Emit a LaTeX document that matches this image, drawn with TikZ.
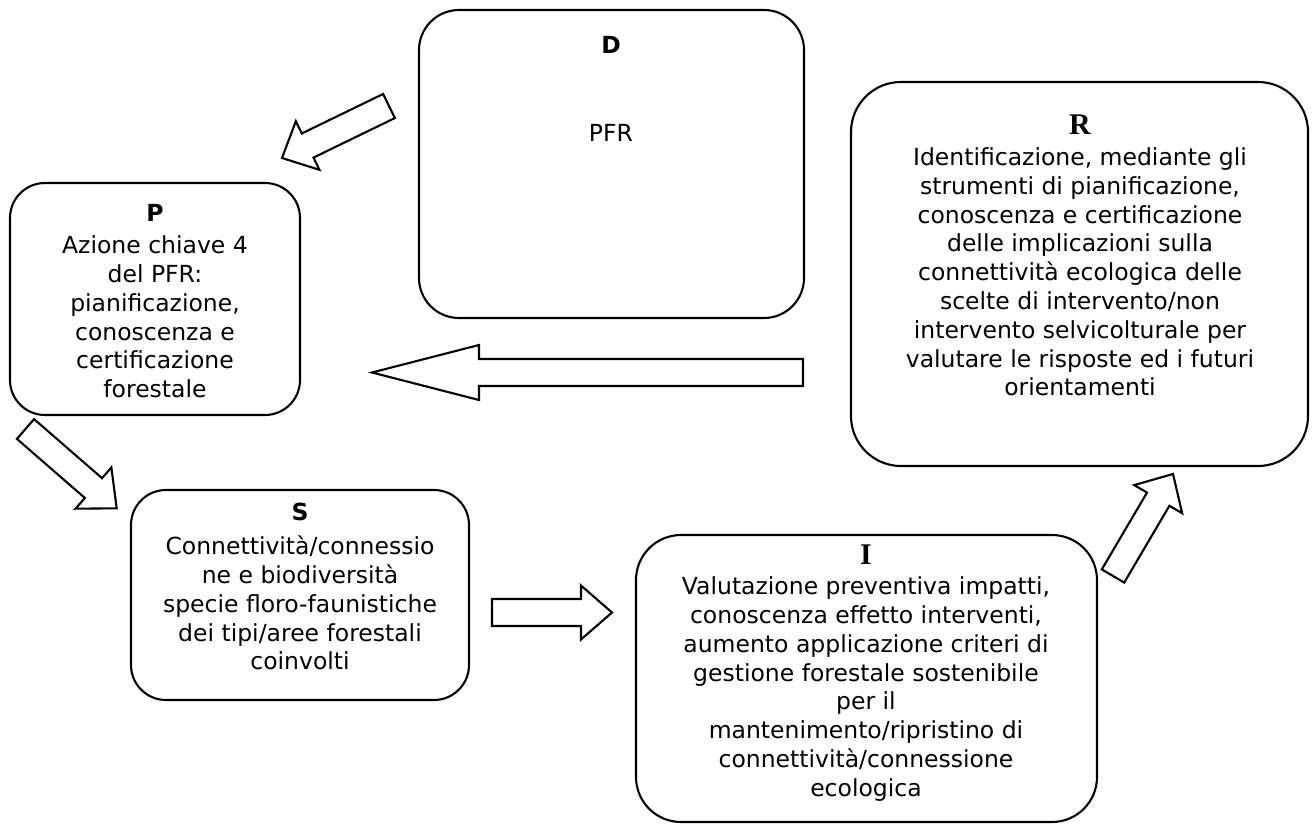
\documentclass[tikz,border=0pt]{standalone}
\usepackage{fontspec}
\setmainfont{DejaVu Sans}
\newfontfamily\hdrserif{Liberation Serif}
\usetikzlibrary{calc}

\tikzset{
  box/.style={draw, line width=2.1pt, rounded corners=#1, inner sep=0pt},
  body/.style={align=center, inner sep=0pt, font=\fontsize{23.5}{28.8}\selectfont},
  shdr/.style={inner sep=0pt, font=\fontsize{23.5}{28.8}\selectfont\bfseries},
  rhdr/.style={inner sep=0pt, font=\fontsize{30}{34}\selectfont\hdrserif\bfseries},
  blockarrow/.style={draw, line width=2.1pt, fill=white, line join=miter},
}

% Hollow block arrow: #1 tail, #2 tip, #3 shaft half-width,
% #4 head half-width, #5 head length
\newcommand\blockarr[5]{%
  \coordinate (ba-b) at ($(#2)!#5!(#1)$);
  \draw[blockarrow]
    ($(#1)!#3!90:(#2)$) -- ($(ba-b)!#3!90:(#2)$) -- ($(ba-b)!#4!90:(#2)$)
    -- (#2)
    -- ($(ba-b)!#4!-90:(#2)$) -- ($(ba-b)!#3!-90:(#2)$) -- ($(#1)!#3!-90:(#2)$)
    -- cycle;
}

\begin{document}
\begin{tikzpicture}[x=1pt, y=-1pt]
\useasboundingbox (0,0) rectangle (1314,824);

% boxes
\node[box=40pt, minimum width=385pt, minimum height=308pt] (D) at (611.5,164) {};
\node[box=35pt, minimum width=290pt, minimum height=232pt] (P) at (155,299) {};
\node[box=50pt, minimum width=457pt, minimum height=384pt] (R) at (1079.5,274) {};
\node[box=35pt, minimum width=338pt, minimum height=210pt] (S) at (300,595) {};
\node[box=45pt, minimum width=461pt, minimum height=287pt] (I) at (866.5,678.5) {};

% D
\node[shdr] (Dh) at (611,45) {D};
\node[body] (Db) at (611,133) {PFR};

% P
\node[shdr] (Ph) at (155,213) {P};
\node[body] (Pb) at (155,317) {Azione chiave 4\\del PFR:\\pianificazione,\\conoscenza e\\certificazione\\forestale};

% S
\node[shdr] (Sh) at (300,512) {S};
\node[body] (Sb) at (300,603) {Connettività/connessio\\ne e biodiversità\\specie floro-faunistiche\\dei tipi/aree forestali\\coinvolti};

% R
\node[rhdr] (Rh) at (1080,125) {R};
\node[body] (Rb) at (1080,272) {Identificazione, mediante gli\\strumenti di pianificazione,\\conoscenza e certificazione\\delle implicazioni sulla\\connettività ecologica delle\\scelte di intervento/non\\intervento selvicolturale per\\valutare le risposte ed i futuri\\orientamenti};

% I
\node[rhdr] (Ih) at (866,555) {I};
\node[body] (Ib) at (866,689) {Valutazione preventiva impatti,\\conoscenza effetto interventi,\\aumento applicazione criteri di\\gestione forestale sostenibile\\per il\\mantenimento/ripristino di\\connettività/connessione\\ecologica};

% arrow end points
\coordinate (dp-t) at (389,106);   \coordinate (dp-h) at (282,158);
\coordinate (ps-t) at (25.5,429);  \coordinate (ps-h) at (116.7,508.3);
\coordinate (rp-t) at (803,372.5); \coordinate (rp-h) at (372,372.5);
\coordinate (si-t) at (492,612.5); \coordinate (si-h) at (612,612.5);
\coordinate (ir-t) at (1113,576);  \coordinate (ir-h) at (1173,474);

\blockarr{dp-t}{dp-h}{13.4pt}{27pt}{28.5pt}
\blockarr{ps-t}{ps-h}{13.1pt}{27.3pt}{30.8pt}
\blockarr{rp-t}{rp-h}{13.5pt}{27.5pt}{107pt}
\blockarr{si-t}{si-h}{13.5pt}{27pt}{31pt}
\blockarr{ir-t}{ir-h}{13pt}{27.8pt}{29.2pt}
\end{tikzpicture}
\end{document}
